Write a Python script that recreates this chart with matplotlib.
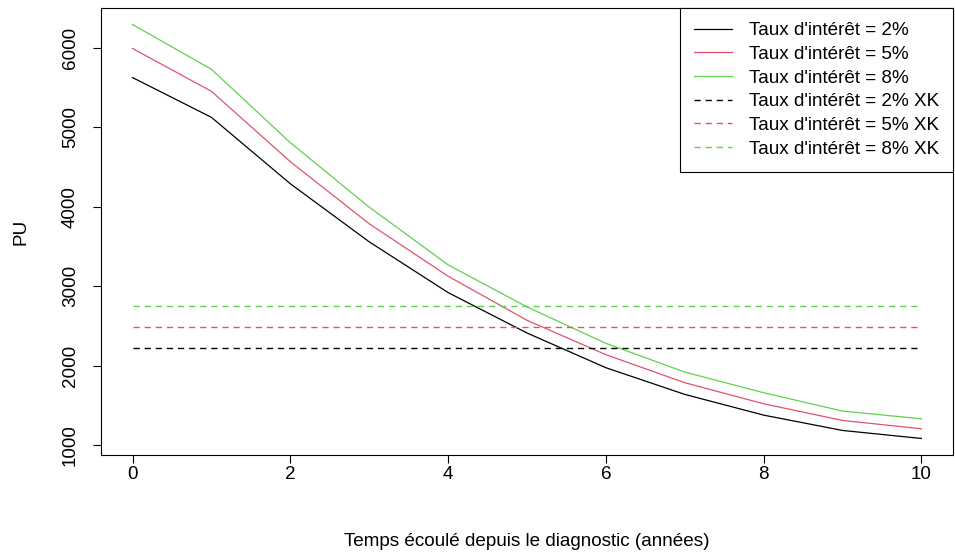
import matplotlib
matplotlib.use("Agg")
import matplotlib.pyplot as plt

plt.rcParams['font.family'] = ['Liberation Sans', 'DejaVu Sans']

years = [0, 1, 2, 3, 4, 5, 6, 7, 8, 9, 10]
pu_2 = [5628, 5127, 4291, 3560, 2921, 2412, 1975, 1639, 1378, 1185, 1084]
pu_5 = [5994, 5455, 4569, 3787, 3127, 2572, 2139, 1786, 1521, 1311, 1206]
pu_8 = [6296, 5732, 4808, 3997, 3270, 2740, 2282, 1920, 1660, 1429, 1332]
xk_values = [2227, 2492, 2753]
labels_curves = ["Taux d'intérêt = 2%", "Taux d'intérêt = 5%", "Taux d'intérêt = 8%"]
labels_xk = ["Taux d'intérêt = 2% XK", "Taux d'intérêt = 5% XK", "Taux d'intérêt = 8% XK"]
colors = ["#000000", "#DF536B", "#61D04F"]

FS = 13.6
W, H = 955, 555
fig = plt.figure(figsize=(W / 100, H / 100), dpi=100)
left, right, top, bottom = 101, 953, 8, 455
ax = fig.add_axes([left / W, 1 - bottom / H, (right - left) / W, (bottom - top) / H])

for vals, c, lab in zip([pu_2, pu_5, pu_8], colors, labels_curves):
    ax.plot(years, vals, color=c, lw=0.9, label=lab)
for v, c, lab in zip(xk_values, colors, labels_xk):
    ax.plot([years[0], years[-1]], [v, v], color=c, lw=1.0, dashes=(4.5, 3.5), label=lab)

ax.set_xlim(-0.4, 10.4)
ax.set_ylim(876, 6504)
ax.set_xticks([0, 2, 4, 6, 8, 10])
ax.set_yticks([1000, 2000, 3000, 4000, 5000, 6000])
ax.tick_params(direction='out', length=6, width=0.8, labelsize=FS)
ax.tick_params(axis='x', pad=2)
ax.tick_params(axis='y', pad=10)
for lab in ax.get_yticklabels():
    lab.set_rotation(90)
    lab.set_va('center')
for s in ax.spines.values():
    s.set_linewidth(0.8)

ax.set_xlabel("Temps écoulé depuis le diagnostic (années)", fontsize=FS, labelpad=36)
ax.set_ylabel("PU", fontsize=FS, labelpad=23)

leg = ax.legend(loc='upper right', fontsize=FS, frameon=True, fancybox=False,
                edgecolor='black', framealpha=1, borderaxespad=0,
                handlelength=2.0, handletextpad=0.9, labelspacing=0.34,
                borderpad=0.75)
leg.get_frame().set_linewidth(0.8)

fig.savefig("out.png", dpi=100)
